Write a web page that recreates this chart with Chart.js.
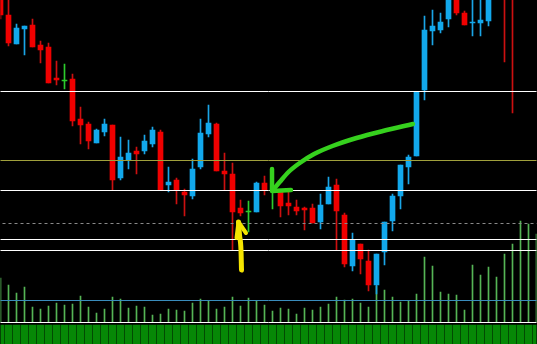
<!DOCTYPE html>
<html><head><meta charset="utf-8">
<script src="https://cdn.jsdelivr.net/npm/chart.js"></script>
<style>html,body{margin:0;padding:0;background:#000;overflow:hidden}#wrap{width:537px;height:344px;position:relative}</style>
</head><body><div id="wrap"><canvas id="c"></canvas></div>
<script>
// ---- candle data (price) ----
const opens = [1.3747,1.3729,1.3700,1.3715,1.3719,1.3699,1.3697,1.3666,1.3663,1.3665,
1.3625,1.3620,1.3601,1.3612,1.3619,1.3566,1.3584,1.3593,1.3593,1.3600,
1.3612,1.3559,1.3564,1.3552,1.3548,1.3577,1.3610,1.3620,1.3573,1.3570,
1.3536,1.3532,1.3532,1.3561,1.3553,1.3552,1.3541,1.3537,1.3536,1.3536,
1.3522,1.3540,1.3559,1.3529,1.3478,1.3500,1.3483,1.3459,1.3492,1.3523,
1.3548,1.3577,1.3588,1.3654,1.3713,1.3714,1.3725,1.3748,1.3731,1.3721,
1.3721,1.3723,1.3760,1.3772,1.3765,1.3755,1.3770,1.3782];
const highs = [1.3750,1.3748,1.3720,1.3718,1.3725,1.3703,1.3701,1.3683,1.3680,1.3670,
1.3637,1.3622,1.3615,1.3625,1.3619,1.3607,1.3604,1.3597,1.3609,1.3617,
1.3614,1.3577,1.3566,1.3555,1.3585,1.3625,1.3639,1.3621,1.3591,1.3581,
1.3544,1.3543,1.3562,1.3568,1.3555,1.3554,1.3552,1.3544,1.3537,1.3540,
1.3550,1.3567,1.3565,1.3531,1.3511,1.3500,1.3494,1.3490,1.3522,1.3550,
1.3579,1.3589,1.3652,1.3728,1.3734,1.3731,1.3754,1.3752,1.3733,1.3749,
1.3749,1.3752,1.3775,1.3780,1.3778,1.3778,1.3790,1.3795];
const lows = [1.3725,1.3698,1.3700,1.3689,1.3697,1.3681,1.3661,1.3659,1.3655,1.3618,
1.3600,1.3595,1.3601,1.3608,1.3554,1.3564,1.3575,1.3570,1.3590,1.3597,
1.3554,1.3552,1.3540,1.3528,1.3545,1.3575,1.3607,1.3573,1.3554,1.3494,
1.3528,1.3512,1.3532,1.3549,1.3535,1.3527,1.3529,1.3529,1.3514,1.3521,
1.3515,1.3540,1.3494,1.3477,1.3473,1.3470,1.3453,1.3450,1.3479,1.3513,
1.3535,1.3560,1.3588,1.3644,1.3699,1.3711,1.3717,1.3729,1.3719,1.3708,
1.3708,1.3718,1.3752,1.3682,1.3631,1.3748,1.3760,1.3770];
const closes = [1.3729,1.3701,1.3716,1.3718,1.3697,1.3694,1.3661,1.3664,1.3663,1.3623,
1.3619,1.3603,1.3614,1.3620,1.3564,1.3587,1.3591,1.3590,1.3603,1.3614,
1.3554,1.3562,1.3554,1.3549,1.3575,1.3611,1.3621,1.3573,1.3570,1.3532,
1.3531,1.3532,1.3561,1.3554,1.3553,1.3538,1.3538,1.3533,1.3534,1.3521,
1.3539,1.3557,1.3533,1.3480,1.3504,1.3485,1.3459,1.3490,1.3522,1.3548,
1.3579,1.3587,1.3652,1.3714,1.3718,1.3722,1.3750,1.3731,1.3719,1.3722,
1.3724,1.3747,1.3770,1.3758,1.3752,1.3770,1.3782,1.3788];
// ---- tick volumes ----
const volumes = [440,370,290,350,150,130,160,190,170,180,
260,150,90,130,250,230,140,160,150,70,
80,130,120,110,190,230,210,130,150,250,
160,240,210,170,110,140,130,80,140,120,
150,180,250,220,230,190,150,360,320,250,
200,210,280,650,560,300,280,270,120,570,
470,550,450,680,780,1010,980,880];
// ---- lower indicator histogram ----
const histogram = [1,1,1,1,1,1,1,1,1,1,1,1,1,1,1,1,1,1,1,1,1,1,1,1,1,1,1,1,1,1,1,1,1,1,
1,1,1,1,1,1,1,1,1,1,1,1,1,1,1,1,1,1,1,1,1,1,1,1,1,1,1,1,1,1,1,1,1,1];
// ---- horizontal levels ----
const whiteLevels = [1.36525, 1.35535, 1.35045, 1.34935];
const oliveLevel = 1.35835;
const dashedLevel = 1.35205;
const volumeAvgLevel = 215;
const volumeBaseLevel = -5;
// ---- hand-drawn arrows (bar index, price) ----
const greenArrowCurve = [{x:34.06,y:1.3554},{x:34.9,y:1.3562},{x:36.0,y:1.3572},{x:37.4,y:1.3581},
  {x:39.2,y:1.3590},{x:41.5,y:1.3598},{x:44.5,y:1.3606},{x:47.8,y:1.3613},{x:51.56,y:1.3620}];
const greenArrowHead = [{x:33.94,y:1.3575},{x:33.94,y:1.3553},{x:36.31,y:1.3554}];
const yellowArrowShaft = [{x:30.125,y:1.3474},{x:30.06,y:1.3494},{x:29.875,y:1.3509},{x:29.75,y:1.3522}];
const yellowArrowHead = [{x:30.69,y:1.3511},{x:29.75,y:1.3522},{x:29.5,y:1.3506}];

const labels = opens.map((_, i) => String(i + 1));
const bodies = opens.map((o, i) => [o, closes[i]]);
const wicks = lows.map((l, i) => [l, highs[i]]);
const pick = (i, up, down, flat) => closes[i] > opens[i] ? up : (closes[i] < opens[i] ? down : flat);
const bodyColors = opens.map((_, i) => pick(i, '#12a8ec', '#f00000', '#2ccc2c'));
const wickColors = opens.map((_, i) => pick(i, '#1aa5e6', '#cc1010', '#2ccc2c'));

function hline(value, color, yAxisID, dash, order) {
  return {type:'line', xAxisID:'xa', yAxisID, data:[{x:-2,y:value},{x:69,y:value}],
    borderColor:color, borderWidth:1, borderDash:dash||[], pointRadius:0, order, tension:0};
}
function stroke(data, color, w, smooth) {
  return {type:'line', xAxisID:'xa', yAxisID:'y', data, borderColor:color, borderWidth:w,
    pointRadius:0, tension: smooth ? 0.4 : 0, cubicInterpolationMode: smooth ? 'monotone' : 'default',
    borderCapStyle:'round', borderJoinStyle:'round', order:1};
}

const bg = {id:'bg', beforeDraw(c){const g=c.ctx; g.save(); g.fillStyle='#000'; g.fillRect(0,0,c.width,c.height); g.restore();}};

new Chart(document.getElementById('c'), {
  type:'bar',
  data:{labels, datasets:[
    {type:'bar', data:histogram, yAxisID:'yh', backgroundColor:'#068806', barThickness:7, grouped:false, order:10},
    {type:'bar', data:volumes, yAxisID:'yv', backgroundColor:'#55b455', barThickness:1, grouped:false, order:9},
    {type:'bar', data:wicks, yAxisID:'y', backgroundColor:wickColors, barThickness:1, grouped:false, order:8},
    {type:'bar', data:bodies, yAxisID:'y', backgroundColor:bodyColors, barThickness:5, grouped:false, minBarLength:1, order:7},
    ...whiteLevels.map(v => hline(v, '#ffffff', 'y', null, 5)),
    hline(oliveLevel, '#a0a03c', 'y', null, 5),
    hline(dashedLevel, '#8a8a8a', 'y', [3,3], 5),
    hline(volumeAvgLevel, '#3a8cbc', 'yv', null, 5),
    hline(volumeBaseLevel, '#ffffff', 'yv', null, 5),
    stroke(greenArrowCurve, '#36d11e', 4.5, true),
    stroke(greenArrowHead, '#36d11e', 4.5, false),
    stroke(yellowArrowShaft, '#f5e400', 5, true),
    stroke(yellowArrowHead, '#f5e400', 4, false)
  ]},
  options:{
    responsive:true, maintainAspectRatio:false, devicePixelRatio:1, animation:false,
    layout:{padding:{left:0.5,right:0.5,top:0,bottom:0}},
    plugins:{legend:{display:false}, tooltip:{enabled:false}},
    scales:{
      x:{type:'category', offset:false, display:false, grid:{offset:false}},
      xa:{type:'linear', min:0, max:67, offset:false, display:false, grid:{offset:false}},
      y:{type:'linear', min:1.3400, max:1.3744, display:false, beginAtZero:false},
      yv:{type:'linear', min:-220, max:3220, display:false},
      yh:{type:'linear', min:0, max:18.1, display:false}
    }
  },
  plugins:[bg]
});
</script></body></html>
